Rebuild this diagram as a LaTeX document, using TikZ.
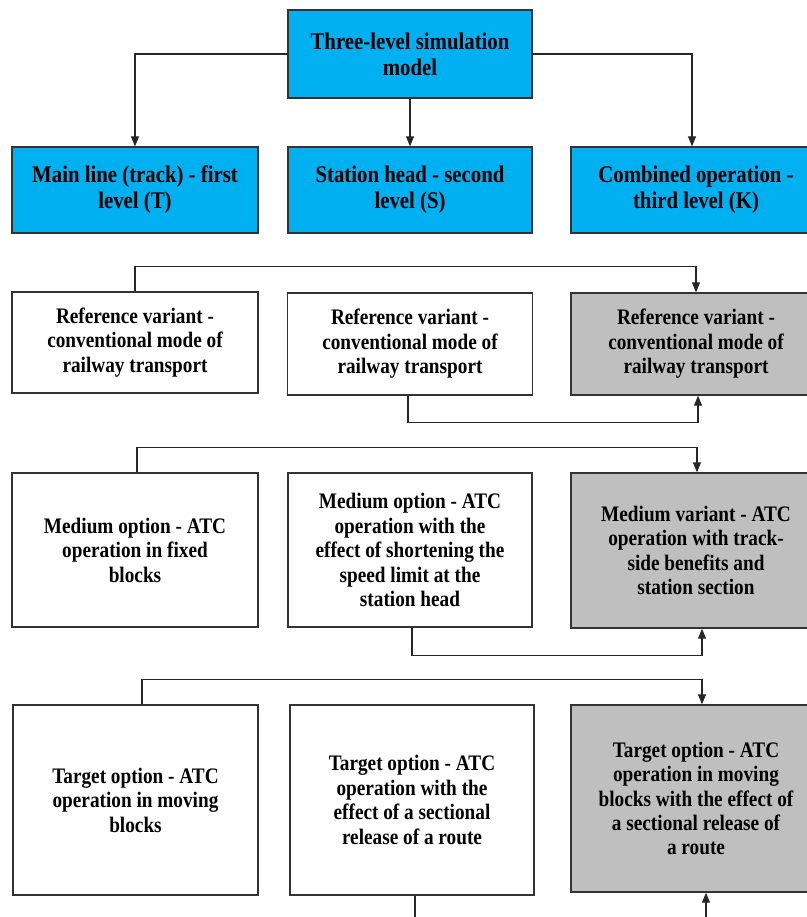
\documentclass[tikz,border=0pt]{standalone}
\usepackage{fontspec}
\setmainfont{Liberation Serif}[FakeStretch=0.87]
\usepackage{tikz}
\usetikzlibrary{arrows.meta, positioning}
\definecolor{levelblue}{HTML}{00B0F0}
\definecolor{variantgrey}{HTML}{BFBFBF}

\begin{document}
\begin{tikzpicture}[
        x=0.02cm,
        y=-0.02cm,
        simbox/.style={
            draw=black!80,
            line width=0.8pt,
            align=center,
            inner sep=2pt,
            font=\fontsize{12.6}{13.9}\selectfont\bfseries
        },
        levelbox/.style={
            simbox,
            fill=levelblue,
            font=\fontsize{13.6}{14.8}\selectfont\bfseries
        },
        variantbox/.style={
            simbox,
            fill=variantgrey
        },
        link/.style={
            draw=black!85,
            line width=0.6pt,
            -{Triangle[length=2mm, width=1.6mm]}
        },
        cutlink/.style={
            draw=black!85,
            line width=0.6pt
        }
    ]

        \useasboundingbox (0,0) rectangle (807,917);

        % Model and its three levels
        \node[levelbox, minimum width=4.88cm, minimum height=1.76cm]
            (model) at (410,54) {Three-level simulation\\model};

        \node[levelbox, minimum width=4.92cm, minimum height=1.72cm]
            (track) at (135,190) {Main line (track) - first\\level (T)};
        \node[levelbox, minimum width=4.88cm, minimum height=1.72cm]
            (head) at (410,190) {Station head - second\\level (S)};
        \node[levelbox, minimum width=5cm, minimum height=1.72cm]
            (comb) at (696,190) {Combined operation -\\third level (K)};

        \draw[link] (model.west) -| (track.north);
        \draw[link] (model.south) -- (head.north);
        \draw[link] (model.east) -| ([xshift=-0.08cm]comb.north);

        % Reference variants
        \node[simbox, minimum width=4.92cm, minimum height=2.02cm]
            (refT) at (135,342.5)
            {Reference variant -\\conventional mode of\\railway transport};
        \node[simbox, minimum width=4.9cm, minimum height=2.04cm]
            (refS) at (410,344)
            {Reference variant -\\conventional mode of\\railway transport};
        \node[variantbox, minimum width=5cm, minimum height=2.04cm]
            (refK) at (696,344)
            {Reference variant -\\conventional mode of\\railway transport};

        \draw[link] (refT.north) -- ++(0,-25) -| (refK.north);
        \draw[link] ([xshift=-0.04cm]refS.south) -- ++(0,27)
            -| ([xshift=0.04cm]refK.south);

        % Medium variants
        \node[simbox, minimum width=4.92cm, minimum height=3.08cm]
            (medT) at (135,550)
            {Medium option - ATC\\operation in fixed\\blocks};
        \node[simbox, minimum width=4.88cm, minimum height=3.08cm]
            (medS) at (410,550)
            {Medium option - ATC\\operation with the\\effect of shortening the\\speed limit at the\\station head};
        \node[variantbox, minimum width=5cm, minimum height=3.1cm]
            (medK) at (696,550.5)
            {Medium variant - ATC\\operation with track-\\side benefits and\\station section};

        \draw[link] ([xshift=0.04cm]medT.north) -- ++(0,-25)
            -| ([xshift=0.02cm]medK.north);
        \draw[link] ([xshift=0.04cm]medS.south) -- ++(0,28)
            -| ([xshift=0.12cm]medK.south);

        % Target variants
        \node[simbox, minimum width=4.9cm, minimum height=3.8cm]
            (tgtT) at (135.5,800)
            {Target option - ATC\\operation in moving\\blocks};
        \node[simbox, minimum width=4.88cm, minimum height=3.8cm]
            (tgtS) at (412,800)
            {Target option - ATC\\operation with the\\effect of a sectional\\release of a route};
        \node[variantbox, minimum width=5cm, minimum height=3.74cm]
            (tgtK) at (696,798.5)
            {Target option - ATC\\operation in moving\\blocks with the effect of\\a sectional release of\\a route};

        \draw[link] ([xshift=0.13cm]tgtT.north) -- ++(0,-25)
            -| ([xshift=0.12cm]tgtK.north);

        % Lines running on below the picture
        \coordinate (cutS) at (415,920);
        \coordinate (cutK) at (706,920);
        \draw[cutlink] (tgtS.south -| cutS) -- (cutS);
        \draw[link] (cutK) -- (tgtK.south -| cutK);

    \end{tikzpicture}
\end{document}
